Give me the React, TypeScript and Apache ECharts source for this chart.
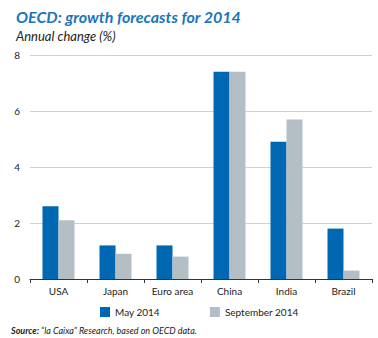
import React, { useEffect, useRef } from "react";
import * as echarts from "echarts";

const categories = ["USA", "Japan", "Euro area", "China", "India", "Brazil"];
const may2014 = [2.6, 1.2, 1.2, 7.4, 4.9, 1.8];
const sep2014 = [2.1, 0.9, 0.8, 7.4, 5.7, 0.3];
const seriesNames = ["May 2014", "September 2014"];

const FONT = "Lato";

export default function App() {
  const ref = useRef<HTMLDivElement>(null);
  useEffect(() => {
    const chart = echarts.init(ref.current!, null, { renderer: "svg" });
    chart.setOption({
      animation: false,
      backgroundColor: "#ffffff",
      textStyle: { fontFamily: FONT },
      title: [
        {
          text: "OECD: growth forecasts for 2014",
          left: 11,
          top: 3,
          textStyle: { fontFamily: FONT, fontSize: 16, fontWeight: "bold", fontStyle: "italic", color: "#1b75bc" },
        },
        {
          text: "Annual change (%)",
          left: 11,
          top: 24,
          textStyle: { fontFamily: FONT, fontSize: 13, fontWeight: "normal", fontStyle: "italic", color: "#222" },
        },
        {
          text: "{b|Source:} “la Caixa” Research, based on OECD data.",
          left: 11,
          top: 324,
          padding: 0,
          textStyle: {
            fontFamily: FONT, fontSize: 9, lineHeight: 12, fontStyle: "italic", fontWeight: "normal", color: "#222",
            rich: { b: { fontFamily: FONT, fontSize: 9, lineHeight: 12, fontStyle: "italic", fontWeight: "bold", color: "#222" } },
          },
        },
      ],
      legend: {
        data: seriesNames,
        top: 302,
        left: 95,
        itemGap: 50,
        itemWidth: 10,
        itemHeight: 10,
        icon: "rect",
        textStyle: { fontFamily: FONT, fontSize: 10, color: "#222" },
      },
      grid: { left: 30, right: 6, top: 55, bottom: 59, containLabel: false },
      xAxis: {
        type: "category",
        data: categories,
        axisLine: { lineStyle: { color: "#333", width: 1 } },
        axisTick: { show: true, length: 4, inside: false, lineStyle: { color: "#333" } },
        axisLabel: { fontFamily: FONT, fontSize: 10, color: "#222", margin: 7 },
      },
      yAxis: {
        type: "value",
        min: 0,
        max: 8,
        interval: 2,
        axisLine: { show: false },
        axisTick: { show: false },
        splitLine: { lineStyle: { color: "#d0d0d0", width: 1 } },
        axisLabel: { fontFamily: FONT, fontSize: 10, color: "#222", margin: 10 },
      },
      series: [
        {
          name: seriesNames[0],
          type: "bar",
          data: may2014,
          barWidth: 16,
          barGap: "0%",
          itemStyle: { color: "#0068b3" },
        },
        {
          name: seriesNames[1],
          type: "bar",
          data: sep2014,
          barWidth: 16,
          barGap: "0%",
          itemStyle: { color: "#b3bfc4" },
        },
      ],
    });
    return () => chart.dispose();
  }, []);
  return <div ref={ref} style={{ width: 378, height: 338, position: "absolute", left: 0, top: 0 }} />;
}
